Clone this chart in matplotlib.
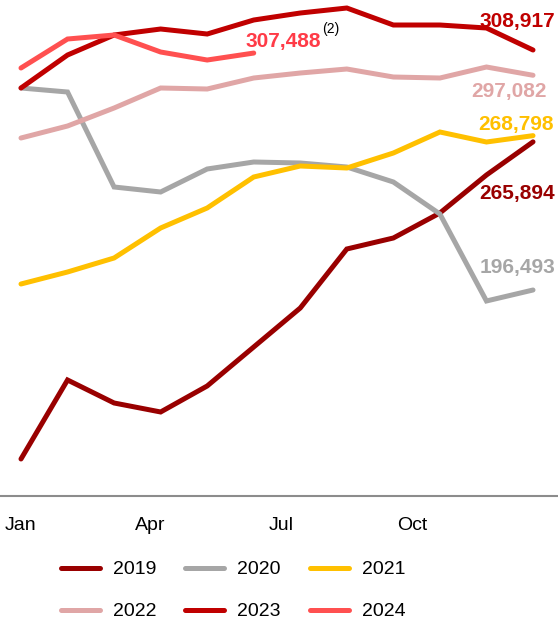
import numpy as np
import matplotlib.pyplot as plt

plt.rcParams['font.family'] = ['Liberation Sans', 'DejaVu Sans']

months = np.arange(12)
tick_pos = [0, 2.78, 5.59, 8.41]
tick_labels = ['Jan', 'Apr', 'Jul', 'Oct']

y2019 = [117341, 154345, 143572, 139356, 151535, 169802, 188070, 215705, 220858, 232568, 250367, 265894]
y2020 = [291118, 289244, 244746, 242404, 253177, 256456, 255988, 254114, 247088, 232099, 191349, 196493]
y2021 = [199311, 204932, 211490, 225542, 234910, 249430, 254583, 253646, 260672, 270508, 265824, 268798]
y2022 = [267698, 273319, 281750, 291118, 290649, 295802, 298144, 300017, 296270, 295802, 300954, 297082]
y2023 = [291118, 306575, 315943, 318753, 316411, 322969, 326248, 328590, 320627, 320627, 319222, 308917]
y2024 = [300486, 314069, 315943, 307980, 304233, 307488]

series = [
    ('2019', y2019, '#990000'),
    ('2020', y2020, '#A6A6A6'),
    ('2021', y2021, '#FFC000'),
    ('2022', y2022, '#E0A6A6'),
    ('2023', y2023, '#C00000'),
    ('2024', y2024, '#FF5050'),
]

fig = plt.figure(figsize=(5.58, 6.25), dpi=100)
ax = fig.add_axes([0, 0.2064, 1, 0.7856])

lines = {}
for name, vals, col in series:
    l, = ax.plot(months[:len(vals)], vals, color=col, lw=3.6,
                 solid_capstyle='round', solid_joinstyle='miter', label=name)
    lines[name] = l

ax.set_xlim(-0.451, 11.537)
ax.set_ylim(100000, 330000)
for s in ['top', 'left', 'right']:
    ax.spines[s].set_visible(False)
ax.spines['bottom'].set_color('#8C8C8C')
ax.spines['bottom'].set_linewidth(1.5)
ax.set_yticks([])
ax.set_xticks(tick_pos)
ax.set_xticklabels(tick_labels, fontsize=14)
ax.tick_params(axis='x', length=0, pad=15)

# end labels
lab = dict(fontsize=15, fontweight='bold', ha='right', va='center')
ax.text(11.48, y2023[-1] + 13500, f'{y2023[-1]:,}', color='#C00000', **lab)
ax.text(11.30, y2022[-1] - 7800, f'{y2022[-1]:,}', color='#E0A6A6', **lab)
ax.text(11.45, y2021[-1] + 5400, f'{y2021[-1]:,}', color='#FFC000', **lab)
ax.text(11.48, y2019[-1] - 24400, f'{y2019[-1]:,}', color='#990000', **lab)
ax.text(11.48, y2020[-1] + 10500, f'{y2020[-1]:,}', color='#A6A6A6', **lab)
ax.text(6.45, y2024[-1] + 5300, f'{y2024[-1]:,}', color='#FF3B47', **lab)
ax.text(6.47, y2024[-1] + 11300, '(2)', fontsize=10, color='black', ha='left', va='center')

order = ['2019', '2022', '2020', '2023', '2021', '2024']
fig.legend([lines[k] for k in order], order, loc='upper left',
           bbox_to_anchor=(0.109, 0.1026), ncol=3, frameon=False,
           fontsize=14, handlelength=2.0, handletextpad=0.67,
           columnspacing=1.5, labelspacing=1.25, borderpad=0, borderaxespad=0)

fig.savefig('out.png', dpi=100)
